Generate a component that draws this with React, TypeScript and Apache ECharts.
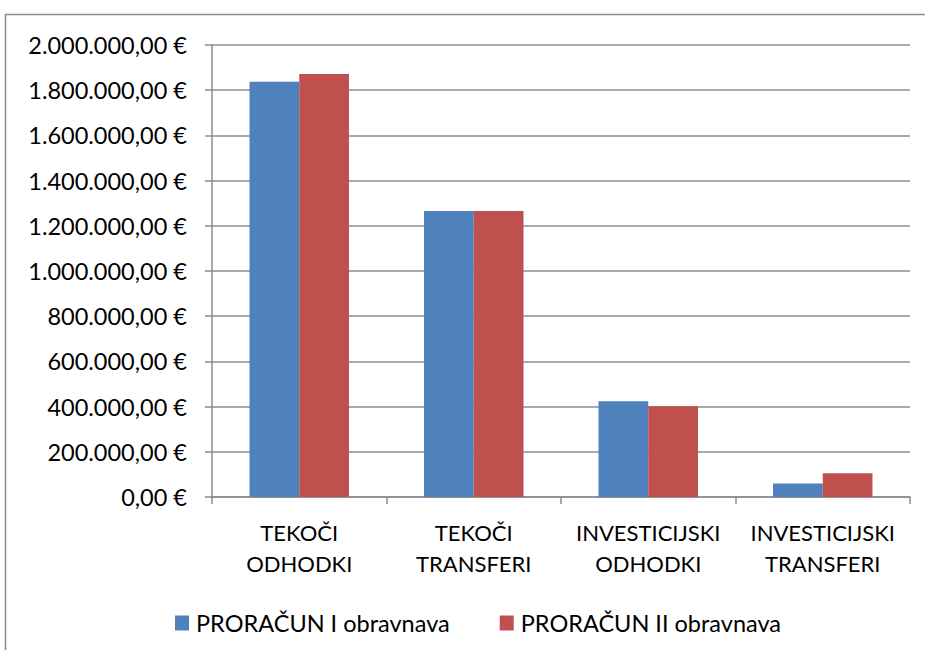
import React, { useEffect, useRef } from "react";
import * as echarts from "echarts";

const categories = ["TEKOČI\nODHODKI", "TEKOČI\nTRANSFERI", "INVESTICIJSKI\nODHODKI", "INVESTICIJSKI\nTRANSFERI"];
const seriesNames = ["PRORAČUN I obravnava", "PRORAČUN II obravnava"];
const budgetI = [1837000, 1266000, 424000, 60000];
const budgetII = [1872000, 1265000, 402000, 105000];

function fmtEuro(v: number): string {
  const parts = v.toFixed(2).split(".");
  const intPart = parts[0].replace(/\B(?=(\d{3})+(?!\d))/g, ".");
  return intPart + "," + parts[1] + " €";
}

export default function App() {
  const ref = useRef<HTMLDivElement>(null);
  useEffect(() => {
    if (!ref.current) return;
    const chart = echarts.init(ref.current, undefined, { renderer: "svg" });
    const font = "Lato";
    chart.setOption({
      animation: false,
      backgroundColor: "#ffffff",
      textStyle: { fontFamily: font },
      graphic: [
        {
          type: "rect",
          shape: { x: 5.5, y: 14.5, width: 960, height: 680 },
          style: { fill: "none", stroke: "#8c8c8c", lineWidth: 1.5 },
          silent: true,
        },
      ],
      grid: { left: 212, right: 15, top: 45, bottom: 153, containLabel: false },
      legend: {
        top: 606,
        left: 170,
        itemWidth: 14,
        itemHeight: 15,
        itemGap: 50,
        icon: "rect",
        textStyle: { fontFamily: font, fontSize: 23.5, color: "#000", padding: [0, 0, 0, 2] },
        data: seriesNames,
      },
      xAxis: {
        type: "category",
        data: categories,
        axisLine: { show: true, lineStyle: { color: "#8c8c8c", width: 1.5 } },
        axisTick: { show: true, length: 7, lineStyle: { color: "#8c8c8c", width: 1.5 } },
        axisLabel: { interval: 0, fontFamily: font, fontSize: 22, color: "#000", lineHeight: 31, margin: 20 },
      },
      yAxis: {
        type: "value",
        min: 0,
        max: 2000000,
        interval: 200000,
        axisLine: { show: true, lineStyle: { color: "#8c8c8c", width: 1.5 } },
        axisTick: { show: true, length: 7, lineStyle: { color: "#8c8c8c", width: 1.5 } },
        splitLine: { show: true, lineStyle: { color: "#8c8c8c", width: 1.5 } },
        axisLabel: { fontFamily: font, fontSize: 23.5, color: "#000", margin: 25, formatter: (v: number) => fmtEuro(v) },
      },
      series: [
        {
          name: seriesNames[0],
          type: "bar",
          data: budgetI,
          barGap: "0%",
          barCategoryGap: "43%",
          itemStyle: { color: "#4F81BD" },
        },
        {
          name: seriesNames[1],
          type: "bar",
          data: budgetII,
          barGap: "0%",
          barCategoryGap: "43%",
          itemStyle: { color: "#C0504D" },
        },
      ],
    });
    return () => chart.dispose();
  }, []);
  return <div ref={ref} style={{ position: "absolute", left: 0, top: 0, width: 925, height: 650 }} />;
}
